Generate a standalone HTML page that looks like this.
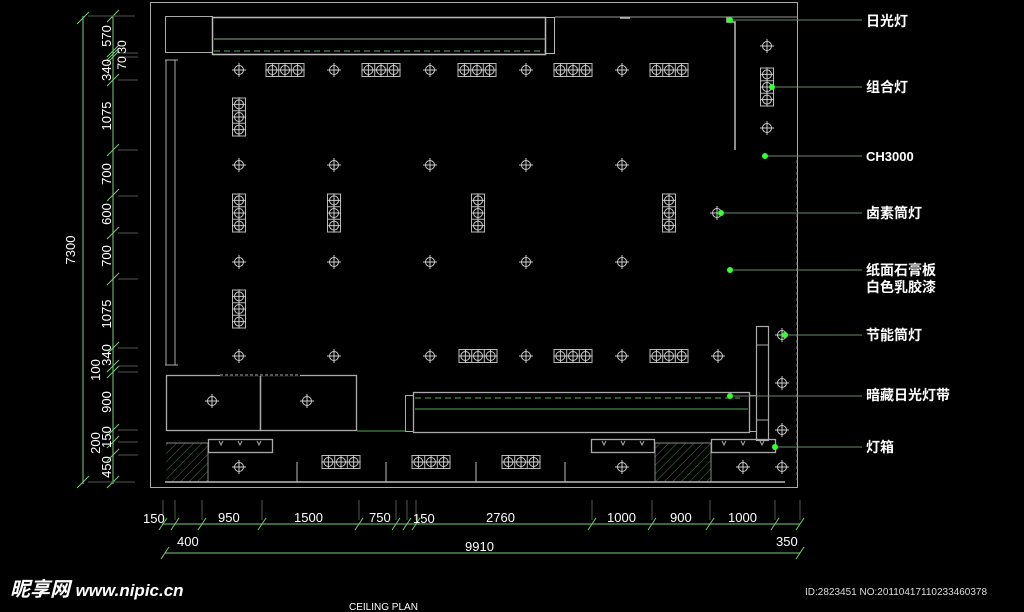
<!DOCTYPE html>
<html><head><meta charset="utf-8"><style>
html,body{margin:0;padding:0;background:#000;}
svg{display:block;}
text{font-family:"Liberation Sans","Noto Sans CJK SC",sans-serif;}
</style></head><body>
<svg width="1024" height="612" viewBox="0 0 1024 612" xmlns="http://www.w3.org/2000/svg">
<defs>
<g id="c"><circle r="4.5" fill="none" stroke="#ccc" stroke-width="1"/><path d="M-7 0H7M0-7V7" stroke="#ccc" stroke-width="1"/></g>
<g id="h"><rect x="-19" y="-6.5" width="38" height="13" fill="none" stroke="#bbb"/><path d="M-6.3-6.5V6.5M6.3-6.5V6.5" stroke="#bbb"/><use href="#c" x="-12.6"/><use href="#c"/><use href="#c" x="12.6"/></g>
<g id="v"><rect x="-6.5" y="-19" width="13" height="38" fill="none" stroke="#bbb"/><path d="M-6.5-6.3H6.5M-6.5 6.3H6.5" stroke="#bbb"/><use href="#c" y="-12.6"/><use href="#c"/><use href="#c" y="12.6"/></g>
<pattern id="hat" width="6" height="6" patternUnits="userSpaceOnUse" patternTransform="rotate(45)"><path d="M0 0V6" stroke="#4a7a4a" stroke-width="1"/></pattern>
</defs>

<rect x="150.5" y="2.5" width="647" height="485" fill="none" stroke="#aaa"/>
<rect x="165.5" y="16.5" width="47" height="36" fill="none" stroke="#aaa"/>
<rect x="212.5" y="17.5" width="333" height="37" fill="none" stroke="#bbb" stroke-width="1.5"/>
<path d="M214 39H545" stroke="#8a8" />
<path d="M214 51H545" stroke="#5a5" stroke-dasharray="6,4"/>
<rect x="545.5" y="17.5" width="9" height="36" fill="none" stroke="#bbb"/>
<path d="M555 17H797" stroke="#999"/>
<path d="M620 18 L630 18 M727 17 V22 H735 V150" stroke="#bbb" stroke-width="1.5" fill="none"/>
<path d="M166 60 V365 M175 60 V365 M165 60 H178 M165 365 H178" stroke="#aaa" fill="none"/>

<use href="#c" x="239" y="70"/><use href="#c" x="334" y="70"/><use href="#c" x="430" y="70"/><use href="#c" x="526" y="70"/><use href="#c" x="622" y="70"/>
<use href="#h" x="285" y="70"/><use href="#h" x="381" y="70"/><use href="#h" x="477" y="70"/><use href="#h" x="573" y="70"/><use href="#h" x="669" y="70"/>
<use href="#v" x="239" y="117"/><use href="#v" x="239" y="213"/><use href="#v" x="239" y="309"/>
<use href="#v" x="334" y="213"/><use href="#v" x="478" y="213"/><use href="#v" x="669" y="213"/>
<use href="#c" x="239" y="165"/><use href="#c" x="334" y="165"/><use href="#c" x="430" y="165"/><use href="#c" x="526" y="165"/><use href="#c" x="622" y="165"/>
<use href="#c" x="239" y="262"/><use href="#c" x="334" y="262"/><use href="#c" x="430" y="262"/><use href="#c" x="526" y="262"/><use href="#c" x="622" y="262"/>
<use href="#c" x="239" y="356"/><use href="#c" x="334" y="356"/><use href="#c" x="430" y="356"/><use href="#c" x="526" y="356"/><use href="#c" x="622" y="356"/><use href="#c" x="718" y="356"/>
<use href="#h" x="478" y="356"/><use href="#h" x="573" y="356"/><use href="#h" x="669" y="356"/>
<use href="#c" x="717" y="213"/>
<use href="#c" x="767" y="46"/><use href="#v" x="767" y="87"/><use href="#c" x="767" y="128"/>
<path d="M797 160V480" stroke="#888" stroke-dasharray="3,3"/>

<rect x="166.5" y="375.5" width="94" height="55" fill="none" stroke="#aaa" stroke-width="1.3"/>
<rect x="260.5" y="375.5" width="96" height="55" fill="none" stroke="#aaa" stroke-width="1.3"/>
<path d="M220 375H300" stroke="#000" stroke-width="2"/><path d="M220 375H300" stroke="#aaa" stroke-dasharray="3,2"/>
<use href="#c" x="212" y="401"/><use href="#c" x="307" y="401"/>
<path d="M357 431H405" stroke="#5a5"/>
<rect x="405.5" y="395.5" width="8" height="36" fill="none" stroke="#aaa"/>
<rect x="413.5" y="392.5" width="336" height="40" fill="none" stroke="#aaa" stroke-width="1.3"/>
<path d="M415 398H740" stroke="#5a5" stroke-dasharray="6,4"/><path d="M415 409H748" stroke="#5a5"/>
<rect x="749.5" y="395.5" width="7" height="36" fill="none" stroke="#aaa"/>
<rect x="756.5" y="326.5" width="12" height="114" fill="none" stroke="#aaa" stroke-width="1.2"/>
<path d="M756 345H768M756 420H768" stroke="#aaa"/>
<use href="#c" x="782" y="335"/><use href="#c" x="782" y="383"/><use href="#c" x="782" y="430"/><use href="#c" x="782" y="467"/>
<rect x="166" y="443" width="42" height="39" fill="url(#hat)"/>
<rect x="655" y="443" width="56" height="39" fill="url(#hat)"/>
<path d="M166 443H208V482M655 482V443H711V482" stroke="#888" fill="none"/>
<rect x="208.5" y="439.5" width="64" height="13" fill="none" stroke="#aaa" stroke-width="1.3"/>
<rect x="591.5" y="439.5" width="63" height="13" fill="none" stroke="#aaa" stroke-width="1.3"/>
<rect x="711.5" y="439.5" width="64" height="13" fill="none" stroke="#aaa" stroke-width="1.3"/>
<path d="M219 441l2 4 2-4M238 441l2 4 2-4M257 441l2 4 2-4M602 441l2 4 2-4M621 441l2 4 2-4M640 441l2 4 2-4M722 441l2 4 2-4M741 441l2 4 2-4M760 441l2 4 2-4" stroke="#aaa" fill="none"/>
<path d="M297 462V482M386 462V482M476 462V482M565 462V482" stroke="#bbb"/>
<path d="M165 482H785" stroke="#bbb" stroke-width="1.5"/>
<use href="#c" x="239" y="467"/><use href="#c" x="622" y="467"/><use href="#c" x="743" y="467"/>
<use href="#h" x="341" y="462"/><use href="#h" x="431" y="462"/><use href="#h" x="521" y="462"/>

<g stroke="#6a8a6a" stroke-width="1">
<path d="M730 20H862M772 87H862M765 156H862M721 213H862M730 270H862M785 335H862M730 396H862M775 447H862"/>
</g>
<g fill="#3f3">
<circle cx="730" cy="20" r="3"/><circle cx="772" cy="87" r="3"/><circle cx="765" cy="156" r="3"/><circle cx="721" cy="213" r="3"/><circle cx="730" cy="270" r="3"/><circle cx="785" cy="335" r="3"/><circle cx="730" cy="396" r="3"/><circle cx="775" cy="447" r="3"/>
</g>
<g fill="#fff" font-size="14" font-weight="bold">
<text x="866" y="26">日光灯</text>
<text x="866" y="92">组合灯</text>
<text x="866" y="161" font-size="13">CH3000</text>
<text x="866" y="218">卤素筒灯</text>
<text x="866" y="275">纸面石膏板</text>
<text x="866" y="292">白色乳胶漆</text>
<text x="866" y="340">节能筒灯</text>
<text x="866" y="400">暗藏日光灯带</text>
<text x="866" y="452">灯箱</text>
</g>

<g stroke="#7c7" stroke-width="1">
<path d="M83 16V484M113 16V484"/>
<path d="M77 24l12-12M77 488l12-12"/>
<path d="M107 22l12-12M107 57l12-12M107 60l12-12M107 63l12-12M107 86l12-12M107 156l12-12M107 201l12-12M107 239l12-12M107 285l12-12M107 354l12-12M107 372l12-12M107 378l12-12M107 436l12-12M107 448l12-12M107 461l12-12M107 488l12-12"/>
</g>
<g stroke="#555"><path d="M118 53H138M118 57H138M118 80H138M118 150H138M118 196H138M118 233H138M118 279H138M118 348H138M118 366H138M118 372H138M118 430H138M118 442H138M118 455H138M88 16H135M88 482H135"/></g>
<g fill="#fff" font-size="13">
<text transform="translate(75,250) rotate(-90)" text-anchor="middle">7300</text>
<g text-anchor="middle">
<text transform="translate(111,36) rotate(-90)">570</text>
<text transform="translate(126,47) rotate(-90)" font-size="12">30</text>
<text transform="translate(126,63) rotate(-90)" font-size="12">70</text>
<text transform="translate(111,70) rotate(-90)">340</text>
<text transform="translate(111,116) rotate(-90)">1075</text>
<text transform="translate(111,174) rotate(-90)">700</text>
<text transform="translate(111,214) rotate(-90)">600</text>
<text transform="translate(111,256) rotate(-90)">700</text>
<text transform="translate(111,314) rotate(-90)">1075</text>
<text transform="translate(111,355) rotate(-90)">340</text>
<text transform="translate(100,370) rotate(-90)">100</text>
<text transform="translate(111,402) rotate(-90)">900</text>
<text transform="translate(111,437) rotate(-90)">150</text>
<text transform="translate(100,443) rotate(-90)">200</text>
<text transform="translate(111,467) rotate(-90)">450</text>
</g>
</g>

<g stroke="#7c7">
<path d="M162 524H800M165 553H800"/>
<path d="M159 530l8-12M171 530l8-12M198 530l8-12M258 530l8-12M355 530l8-12M392 530l8-12M403 530l8-12M412 530l8-12M588 530l8-12M648 530l8-12M706 530l8-12M771 530l8-12M796 530l8-12M161 559l8-12M796 559l8-12"/>
</g>
<g stroke="#555"><path d="M163 500V520M175 500V520M202 500V520M262 500V520M359 500V520M396 500V520M407 500V520M416 500V520M592 500V520M652 500V520M710 500V520M775 500V520M800 500V520"/></g>
<g fill="#fff" font-size="13">
<text x="143" y="523">150</text>
<text x="218" y="522">950</text>
<text x="294" y="522">1500</text>
<text x="369" y="522">750</text>
<text x="413" y="523">150</text>
<text x="486" y="522">2760</text>
<text x="607" y="522">1000</text>
<text x="670" y="522">900</text>
<text x="728" y="522">1000</text>
<text x="177" y="546">400</text>
<text x="465" y="551">9910</text>
<text x="776" y="546">350</text>
</g>
<text x="349" y="610" fill="#fff" font-size="10">CEILING PLAN</text>
<text x="10" y="596" fill="#fff" font-size="20" font-weight="bold" font-style="italic">昵享网 <tspan font-size="17">www.nipic.cn</tspan></text>
<text x="805" y="595" fill="#ddd" font-size="10">ID:2823451 NO:20110417110233460378</text>
</svg>
</body></html>
